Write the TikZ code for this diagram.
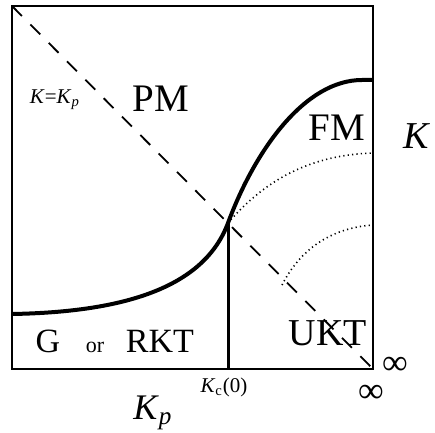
\documentclass[tikz,border=0pt]{standalone}
\usepackage{fontspec}
\setmainfont{Liberation Serif}
\newcommand{\fsz}[1]{\fontsize{#1}{#1}\selectfont}

\begin{document}
\begin{tikzpicture}[x=0.5pt, y=-0.5pt, every node/.style={inner sep=0pt},
  big/.style={font=\fsz{19.5}}, small/.style={font=\fsz{10.5}},
  border/.style={line width=1.2pt},
  boundary/.style={line width=2pt},
  diag/.style={line width=0.9pt, dash pattern=on 7pt off 6pt},
  dots/.style={line width=0.8pt, dash pattern=on 0.6pt off 1.6pt}]
\useasboundingbox (0,0) rectangle (435,433);
\coordinate (tl) at (12,6);
\coordinate (br) at (373,369);
\coordinate (left) at (12,314);
\coordinate (kc) at (228,223);
\coordinate (kcbot) at (228,369);
\coordinate (top) at (373,80);
\coordinate (mid) at (373,153);
\coordinate (low) at (373,225);
\coordinate (lowstart) at (282,285);
\draw[border] (tl) rectangle (br);
\draw[diag] (tl) -- (br);
\draw[boundary] (left) .. controls (130,312) and (205,285) .. (kc)
  .. controls (255,150) and (305,80) .. (362,80) -- (top);
\draw[line width=1.5pt] (kc) -- (kcbot);
\draw[dots] (kc) .. controls (265,180) and (310,155) .. (mid);
\draw[dots] (lowstart) .. controls (300,250) and (330,228) .. (low);
% labels
\node[small] (kkp) at (55,100) {\textit{K}=\textit{K}\textsubscript{\textit{p}}};
\node[big] (pm) at (161,99) {PM};
\node[big] (fm) at (337,128) {FM};
\node[font=\fsz{19}] (kaxis) at (417,136) {\textit{K}};
\node[font=\fsz{17}, anchor=base] (g) at (48,353) {G};
\node[font=\fsz{11}, anchor=base] (or) at (95,353) {or};
\node[font=\fsz{17}, anchor=base] (rkt) at (160,353) {RKT};
\node[font=\fsz{19}, anchor=base] (ukt) at (328,346) {UKT};
\node[font=\fsz{18}] (infk) at (395,366) {∞};
\node[font=\fsz{18}] (infkp) at (371,394) {∞};
\node[small] (kc0) at (224,387) {\textit{K}\textsubscript{c}(0)};
\node[font=\fsz{18}] (kp) at (153,413) {\textit{K}\textsubscript{\textit{p}}};
\end{tikzpicture}
\end{document}
